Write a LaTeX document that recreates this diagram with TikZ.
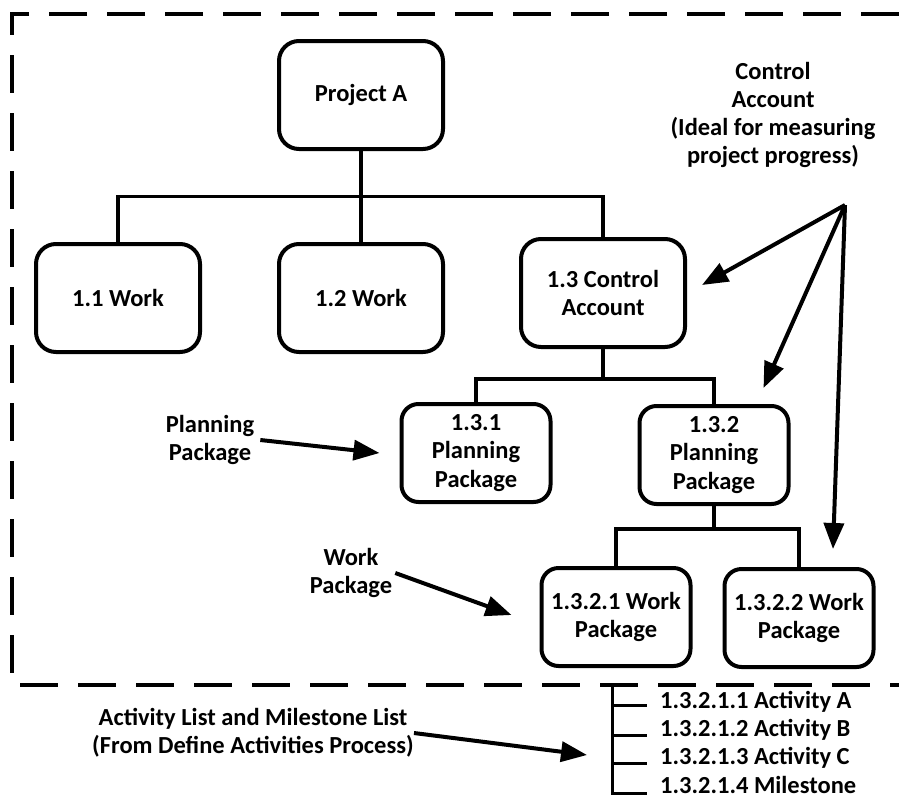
\documentclass[tikz,border=0pt]{standalone}
\usepackage{fontspec}
\setmainfont{Carlito}
\usepackage{tikz}
\usetikzlibrary{arrows.meta,positioning,calc}
\newcommand{\wbsfont}{\bfseries\fontsize{24.5}{28.3}\selectfont}
\tikzstyle{wbsbox} = [rectangle, rounded corners=20pt, minimum width=164pt, minimum height=108pt, align=center, draw=black, line width=4pt, font=\wbsfont]
\tikzstyle{pkgbox} = [wbsbox, rounded corners=17pt, minimum width=149pt, minimum height=98pt]
\tikzstyle{note} = [align=center, inner sep=0pt, font=\wbsfont]
\tikzstyle{listitem} = [anchor=west, inner sep=0pt, font=\wbsfont]
\tikzstyle{link} = [line width=3.5pt]
\tikzstyle{tick} = [line width=3pt]
\tikzstyle{pointer} = [line width=4pt, -{Triangle[length=26pt,width=20pt]}]
\tikzstyle{frame} = [line width=4pt, dash pattern=on 38pt off 20pt]

\begin{document}
\begin{tikzpicture}[x=1pt, y=-1pt]
\useasboundingbox (0,0) rectangle (899,798);

% scope boundary
\draw[frame] (899,14) -- (12,14) -- (12,685) -- (899,685);

% WBS tree
\node (proj) [wbsbox] at (361,95) {Project A};
\node (w12) [wbsbox, below=91pt of proj] {1.2 Work};
\node (w11) [wbsbox, left=75pt of w12] {1.1 Work};
\node (ca13) [wbsbox, right=74pt of w12, yshift=5pt] {1.3 Control\\Account};
\node (pp131) [pkgbox] at (476,453) {1.3.1\\Planning\\Package};
\node (pp132) [pkgbox] at (714,455) {1.3.2\\Planning\\Package};
\node (wp1321) [pkgbox] at (616,617) {1.3.2.1 Work\\Package};
\node (wp1322) [pkgbox] at (799,618) {1.3.2.2 Work\\Package};

\coordinate (bus1) at ($(proj.south)!0.5!(w12.north)$);
\draw[link] (proj.south) -- (w12.north);
\draw[link] (w11.north) |- (bus1) -| (ca13.north);

\coordinate (bus2) at ($(ca13.south)+(0,30)$);
\draw[link] (ca13.south) -- (bus2);
\draw[link] (pp131.north) |- (bus2) -| (pp132.north);

\coordinate (bus3) at ($(pp132.south)+(0,23)$);
\draw[link] (pp132.south) -- (bus3);
\draw[link] (wp1321.north) |- (bus3) -| (wp1322.north);

% activity list
\coordinate (listtop) at (612,685);
\node (act1) [listitem] at (660,702) {1.3.2.1.1 Activity A};
\node (act2) [listitem] at (660,730) {1.3.2.1.2 Activity B};
\node (act3) [listitem] at (660,758) {1.3.2.1.3 Activity C};
\node (act4) [listitem] at (660,785) {1.3.2.1.4 Milestone};
\draw[tick] (listtop) |- ([xshift=-13pt,yshift=-8pt]act4.west);
\draw[tick] ([yshift=-3pt]listtop |- act1.west) -- ([xshift=-13pt,yshift=-3pt]act1.west);
\draw[tick] ([yshift=-5pt]listtop |- act2.west) -- ([xshift=-13pt,yshift=-5pt]act2.west);
\draw[tick] ([yshift=-5pt]listtop |- act3.west) -- ([xshift=-13pt,yshift=-5pt]act3.west);

% callouts
\node (canote) [note] at (773,115) {Control\\Account\\(Ideal for measuring\\project progress)};
\coordinate (cafork) at (845,205);
\draw[pointer] (cafork) -- ([xshift=15pt,yshift=8pt]ca13.east);
\draw[pointer] (cafork) -- ([xshift=-27pt,yshift=16pt]pp132.north east);
\draw[pointer] (cafork) -- ([xshift=34pt,yshift=18pt]wp1322.north);

\node (ppnote) [note] at (210,440) {Planning\\Package};
\draw[pointer] ([xshift=6pt]ppnote.east) -- ([xshift=-20pt]pp131.west);

\node (wpnote) [note] at (351,573) {Work\\Package};
\draw[pointer] ([xshift=3pt]wpnote.east) -- ([xshift=-28pt,yshift=2pt]wp1321.west);

\node (alnote) [note] at (253,733) {Activity List and Milestone List\\(From Define Activities Process)};
\draw[pointer] (alnote.east) -- ([xshift=-73pt,yshift=3pt]act3.west);
\end{tikzpicture}
\end{document}
